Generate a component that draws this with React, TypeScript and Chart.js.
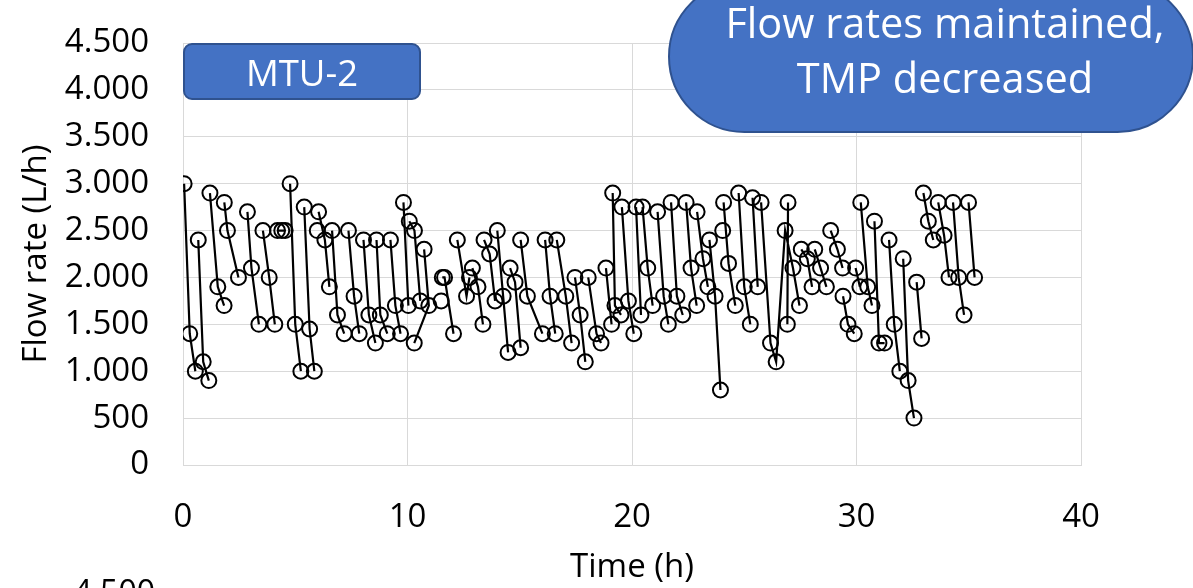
import React, { useEffect, useRef } from "react";
import { Chart, registerables } from "chart.js";

Chart.register(...registerables);

// Time (h) of each reading; null separates the filtration cycles (line breaks)
const TIME_H: (number | null)[] = [
  0.05, 0.3, 0.55, null,
  0.68, 0.9, 1.15, null,
  1.2, 1.55, 1.83, null,
  1.84, 1.98, 2.47, null,
  2.87, 3.05, 3.38, null,
  3.56, 3.84, 4.09, null,
  4.21, 4.4, 4.55, null,
  4.77, 5.0, 5.25, null,
  5.4, 5.64, 5.85, null,
  5.98, null,
  6.04, 6.32, 6.52, null,
  6.64, 6.88, 7.18, null,
  7.37, 7.62, 7.85, null,
  8.04, 8.28, 8.57, null,
  8.62, 8.79, 9.1, null,
  9.24, 9.46, 9.69, null,
  9.82, 10.04, null,
  10.08, 10.31, 10.57, null,
  10.74, 10.95, 10.3, null,
  11.5, null,
  11.55, 11.65, 12.05, null,
  12.22, 12.63, 12.76, null,
  12.89, 13.14, 13.36, null,
  13.41, 13.66, 13.9, null,
  14.0, 14.26, 14.48, null,
  14.57, 14.79, 15.04, null,
  15.04, 15.34, 16.01, null,
  16.13, 16.35, 16.58, null,
  16.65, 17.05, 17.31, null,
  17.46, 17.69, 17.92, null,
  18.05, 18.42, 18.62, null,
  18.84, 19.09, null,
  19.14, 19.24, 19.51, null,
  19.55, 19.84, 20.08, null,
  20.18, 20.4, null,
  20.47, 20.7, 20.92, null,
  21.14, 21.41, 21.62, null,
  21.74, 22.0, 22.26, null,
  22.41, 22.63, 22.88, null,
  22.9, 23.16, 23.38, null,
  23.45, 23.7, 23.94, null,
  24.04, null,
  24.08, 24.3, 24.6, null,
  24.75, 25.0, 25.27, null,
  25.37, 25.6, null,
  25.75, 26.17, 26.42, 26.82, 27.17, 27.46, null,
  26.95, 26.92, null,
  27.54, 27.81, 28.02, null,
  28.14, 28.4, 28.66, null,
  28.85, 29.15, 29.38, null,
  29.4, 29.62, 29.9, null,
  29.96, 30.15, null,
  30.19, 30.5, 30.69, null,
  30.8, 31.0, 31.25, null,
  31.45, 31.68, 31.93, null,
  32.08, 32.3, 32.56, null,
  32.68, 32.9, null,
  32.98, 33.2, 33.42, null,
  33.64, 33.9, 34.12, null,
  34.3, 34.55, 34.79, null,
  34.99, 35.26,
];

// Flow rate (L/h) matching TIME_H
const FLOW_LH: (number | null)[] = [
  3000, 1400, 1000, null,
  2400, 1100, 900, null,
  2900, 1900, 1700, null,
  2800, 2500, 2000, null,
  2700, 2100, 1500, null,
  2500, 2000, 1500, null,
  2500, 2500, 2500, null,
  3000, 1500, 1000, null,
  2750, 1450, 1000, null,
  2500, null,
  2700, 2400, 1900, null,
  2500, 1600, 1400, null,
  2500, 1800, 1400, null,
  2400, 1600, 1300, null,
  2400, 1600, 1400, null,
  2400, 1700, 1400, null,
  2800, 1700, null,
  2600, 2500, 1750, null,
  2300, 1700, 1300, null,
  1750, null,
  2000, 2000, 1400, null,
  2400, 1800, 2000, null,
  2100, 1900, 1500, null,
  2400, 2250, 1750, null,
  2500, 1800, 1200, null,
  2100, 1950, 1250, null,
  2400, 1800, 1400, null,
  2400, 1800, 1400, null,
  2400, 1800, 1300, null,
  2000, 1600, 1100, null,
  2000, 1400, 1300, null,
  2100, 1500, null,
  2900, 1700, 1600, null,
  2750, 1750, 1400, null,
  2750, 1600, null,
  2750, 2100, 1700, null,
  2700, 1800, 1500, null,
  2800, 1800, 1600, null,
  2800, 2100, 1700, null,
  2700, 2200, 1900, null,
  2400, 1800, 800, null,
  2500, null,
  2800, 2150, 1700, null,
  2900, 1900, 1500, null,
  2850, 1900, null,
  2800, 1300, 1100, 2500, 2100, 1700, null,
  2800, 1500, null,
  2300, 2200, 1900, null,
  2300, 2100, 1900, null,
  2500, 2300, 2100, null,
  1800, 1500, 1400, null,
  2100, 1900, null,
  2800, 1900, 1700, null,
  2600, 1300, 1300, null,
  2400, 1500, 1000, null,
  2200, 900, 500, null,
  1950, 1350, null,
  2900, 2600, 2400, null,
  2800, 2450, 2000, null,
  2800, 2000, 1600, null,
  2800, 2000,
];

const X_MIN = 0;
const X_MAX = 40;
const X_STEP = 10;
const Y_MIN = 0;
const Y_MAX = 4500;
const Y_STEP = 500;

const X_TITLE = "Time (h)";
const Y_TITLE = "Flow rate (L/h)";
const LABEL_TEXT = "MTU-2";
const NOTE_LINES = ["Flow rates maintained,", "TMP decreased"];
const NEXT_CHART_TICK = "4.500";

const FONT = "'Open Sans', 'DejaVu Sans', sans-serif";

function formatThousands(v: number): string {
  const n = Math.round(v);
  if (n >= 1000) {
    return Math.floor(n / 1000) + "." + String(n % 1000).padStart(3, "0");
  }
  return String(n);
}

function buildPoints() {
  const pts: { x: number; y: number | null }[] = [];
  let lastX = 0;
  for (let i = 0; i < TIME_H.length; i++) {
    const t = TIME_H[i];
    const f = FLOW_LH[i];
    if (t === null || f === null || f === undefined) {
      pts.push({ x: lastX, y: null });
    } else {
      lastX = t;
      pts.push({ x: t, y: f });
    }
  }
  return pts;
}

export default function App() {
  const canvasRef = useRef<HTMLCanvasElement | null>(null);

  useEffect(() => {
    const canvas = canvasRef.current;
    if (!canvas) return;
    Chart.defaults.font.family = FONT;
    const chart = new Chart(canvas, {
      type: "scatter",
      data: {
        datasets: [
          {
            data: buildPoints() as any,
            showLine: true,
            spanGaps: false,
            borderColor: "#000000",
            borderWidth: 2.2,
            pointRadius: 7.5,
            pointBorderWidth: 2,
            pointBorderColor: "#000000",
            pointBackgroundColor: "rgba(0,0,0,0)",
            pointStyle: "circle",
          } as any,
        ],
      },
      options: {
        animation: false,
        responsive: false,
        devicePixelRatio: 1,
        layout: { padding: { top: 43, right: 112, bottom: 0, left: 0 } },
        plugins: {
          legend: { display: false },
          tooltip: { enabled: false },
        },
        scales: {
          x: {
            type: "linear",
            min: X_MIN,
            max: X_MAX,
            ticks: {
              stepSize: X_STEP,
              color: "#000000",
              font: { size: 33 },
              padding: 33,
            },
            grid: { color: "#d9d9d9", lineWidth: 1, drawTicks: false },
            border: { color: "#d9d9d9" },
            title: {
              display: true,
              text: X_TITLE,
              color: "#000000",
              font: { size: 33 },
              padding: { top: 0, bottom: 1 },
            },
            afterFit: (s: any) => {
              s.height = 123;
            },
          },
          y: {
            type: "linear",
            min: Y_MIN,
            max: Y_MAX,
            ticks: {
              stepSize: Y_STEP,
              color: "#000000",
              font: { size: 33 },
              padding: 4,
              callback: (v: any) => formatThousands(Number(v)),
            },
            grid: {
              color: "#d9d9d9",
              lineWidth: 1,
              drawTicks: true,
              tickLength: 30,
              tickColor: "rgba(0,0,0,0)",
            },
            border: { color: "#d9d9d9" },
            title: {
              display: true,
              text: Y_TITLE,
              color: "#000000",
              font: { size: 33 },
              padding: { top: 17, bottom: 0 },
            },
            afterFit: (s: any) => {
              s.width = 183;
            },
          },
        },
      } as any,
    });
    return () => chart.destroy();
  }, []);

  return (
    <div
      style={{
        position: "fixed",
        left: 0,
        top: 0,
        width: 1193,
        height: 588,
        overflow: "hidden",
        background: "#ffffff",
        fontFamily: FONT,
      }}
    >
      <canvas
        ref={canvasRef}
        width={1193}
        height={588}
        style={{ position: "absolute", left: 0, top: 0, width: 1193, height: 588 }}
      />
      <div
        style={{
          position: "absolute",
          left: 183,
          top: 43,
          width: 238,
          height: 57,
          boxSizing: "border-box",
          background: "#4472C4",
          border: "2px solid #2F528F",
          borderRadius: 9,
          color: "#ffffff",
          fontSize: 36.5,
          display: "flex",
          alignItems: "center",
          justifyContent: "center",
          lineHeight: "normal",
        }}
      >
        {LABEL_TEXT}
      </div>
      <div
        style={{
          position: "absolute",
          left: 668,
          top: -20,
          width: 526,
          height: 153,
          boxSizing: "border-box",
          background: "#4472C4",
          border: "2px solid #2F528F",
          borderRadius: 77,
        }}
      />
      <div
        style={{
          position: "absolute",
          left: 645,
          top: -5,
          width: 600,
          textAlign: "center",
          color: "#ffffff",
          fontSize: 41.5,
          lineHeight: "55px",
        }}
      >
        {NOTE_LINES.map((l, i) => (
          <div key={i}>{l}</div>
        ))}
      </div>
      <div
        style={{
          position: "absolute",
          left: 0,
          top: 569,
          width: 155,
          textAlign: "right",
          color: "#000000",
          fontSize: 32,
          lineHeight: "normal",
        }}
      >
        {NEXT_CHART_TICK}
      </div>
    </div>
  );
}
